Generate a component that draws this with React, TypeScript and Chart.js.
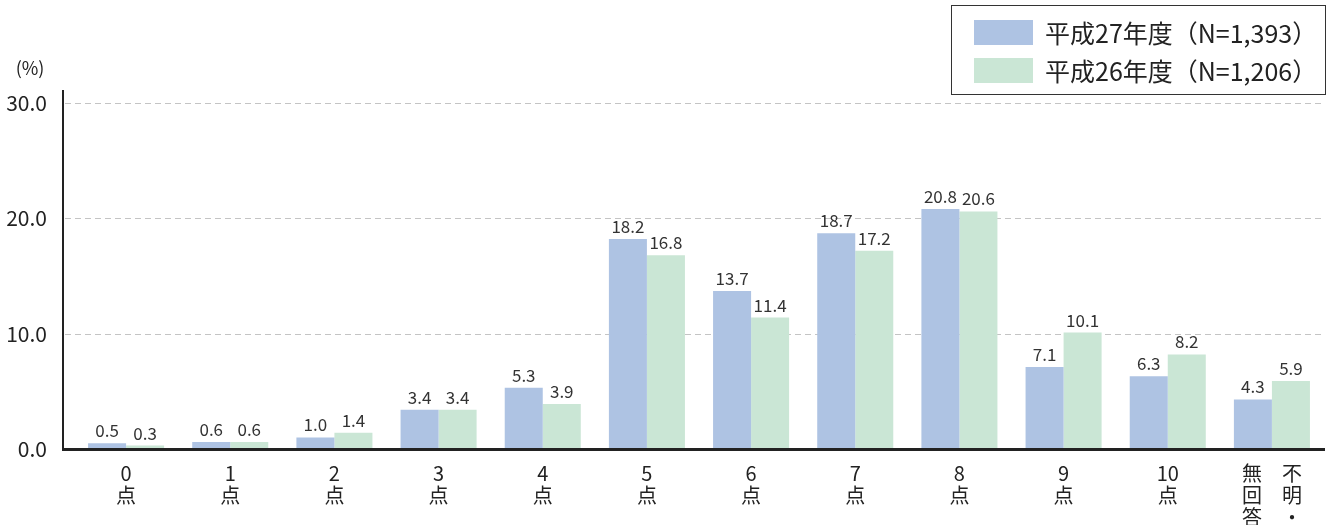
import React, { useEffect, useRef } from "react";
import { Chart, registerables } from "chart.js";

Chart.register(...registerables);

const categories: string[][] = [
  ["0", "点"], ["1", "点"], ["2", "点"], ["3", "点"], ["4", "点"], ["5", "点"],
  ["6", "点"], ["7", "点"], ["8", "点"], ["9", "点"], ["10", "点"],
  ["無　不", "回　明", "答　・"],
];
const seriesH27: number[] = [0.5, 0.6, 1.0, 3.4, 5.3, 18.2, 13.7, 18.7, 20.8, 7.1, 6.3, 4.3];
const seriesH26: number[] = [0.3, 0.6, 1.4, 3.4, 3.9, 16.8, 11.4, 17.2, 20.6, 10.1, 8.2, 5.9];
const seriesLabels: string[] = ["平成27年度（N=1,393）", "平成26年度（N=1,206）"];
const yTicks: number[] = [0, 10, 20, 30];

const FONT = "'Noto Sans CJK JP', 'Noto Sans', sans-serif";
const BLUE = "#aec3e3";
const GREEN = "#cae6d5";

const decorPlugin = {
  id: "decor",
  beforeDatasetsDraw(chart: any) {
    const { ctx, chartArea, scales } = chart;
    const y = scales.y;
    const axisX = 63;
    ctx.save();
    ctx.strokeStyle = "#c4c4c4";
    ctx.lineWidth = 1;
    ctx.setLineDash([6, 4]);
    yTicks.forEach((t) => {
      if (t === 0) return;
      const py = Math.round(y.getPixelForValue(t)) + 0.5;
      ctx.beginPath();
      ctx.moveTo(axisX + 2, py);
      ctx.lineTo(chartArea.right + 1, py);
      ctx.stroke();
    });
    ctx.setLineDash([]);
    ctx.restore();
  },
  afterDatasetsDraw(chart: any) {
    const { ctx, chartArea, scales } = chart;
    const axisX = 63;
    ctx.save();
    // data labels
    ctx.font = `17px ${FONT}`;
    ctx.fillStyle = "#333";
    ctx.textAlign = "center";
    ctx.textBaseline = "alphabetic";
    chart.data.datasets.forEach((ds: any, di: number) => {
      const meta = chart.getDatasetMeta(di);
      meta.data.forEach((bar: any, i: number) => {
        ctx.fillText(Number(ds.data[i]).toFixed(1), bar.x, bar.y - 6);
      });
    });
    // axes
    ctx.strokeStyle = "#222";
    ctx.lineWidth = 2;
    ctx.beginPath();
    ctx.moveTo(axisX, chartArea.top - 13);
    ctx.lineTo(axisX, chartArea.bottom);
    ctx.stroke();
    ctx.lineWidth = 3;
    ctx.beginPath();
    ctx.moveTo(axisX - 1, scales.y.getPixelForValue(0) + 0.5);
    ctx.lineTo(chartArea.right + 1, scales.y.getPixelForValue(0) + 0.5);
    ctx.stroke();
    // unit
    ctx.font = `18px ${FONT}`;
    ctx.fillStyle = "#222";
    ctx.textAlign = "center";
    ctx.textBaseline = "middle";
    ctx.fillText("(%)", 30, 68);
    // legend box
    const bx = 951, by = 5, bw = 374, bh = 89;
    ctx.strokeStyle = "#333";
    ctx.lineWidth = 1;
    ctx.strokeRect(bx + 0.5, by + 0.5, bw, bh);
    const colors = [BLUE, GREEN];
    ctx.font = `25px ${FONT}`;
    ctx.textAlign = "left";
    ctx.textBaseline = "middle";
    seriesLabels.forEach((lab, i) => {
      const cy = 32 + i * 38;
      ctx.fillStyle = colors[i];
      ctx.fillRect(974, cy - 12, 59, 25);
      ctx.fillStyle = "#222";
      ctx.fillText(lab, 1045, cy + 1);
    });
    ctx.restore();
  },
};

export default function App() {
  const ref = useRef<HTMLCanvasElement | null>(null);
  useEffect(() => {
    if (!ref.current) return;
    const chart = new Chart(ref.current, {
      type: "bar",
      data: {
        labels: categories,
        datasets: [
          { label: seriesLabels[0], data: seriesH27, backgroundColor: BLUE, categoryPercentage: 0.73, barPercentage: 1.0 },
          { label: seriesLabels[1], data: seriesH26, backgroundColor: GREEN, categoryPercentage: 0.73, barPercentage: 1.0 },
        ],
      },
      options: {
        animation: false,
        responsive: false,
        maintainAspectRatio: false,
        layout: { padding: { top: 103, right: 8, bottom: 0, left: 0 } },
        plugins: { legend: { display: false }, tooltip: { enabled: false } },
        scales: {
          x: {
            grid: { display: false },
            border: { display: false },
            ticks: {
              color: "#222",
              font: { family: FONT, size: 20, lineHeight: 1.1 },
              padding: 5,
              maxRotation: 0,
              autoSkip: false,
            },
            afterFit: (s: any) => { s.height = 76; },
          },
          y: {
            min: 0,
            max: 30,
            grid: { display: false },
            border: { display: false },
            ticks: {
              stepSize: 10,
              color: "#222",
              font: { family: FONT, size: 21 },
              padding: 19,
              callback: (v: any) => Number(v).toFixed(1),
            },
            afterFit: (s: any) => { s.width = 74; },
          },
        },
      },
      plugins: [decorPlugin],
    });
    return () => chart.destroy();
  }, []);
  return (
    <div style={{ position: "absolute", left: 0, top: 0, width: 1332, height: 525, background: "#fff" }}>
      <canvas ref={ref} width={1332} height={525} />
    </div>
  );
}
